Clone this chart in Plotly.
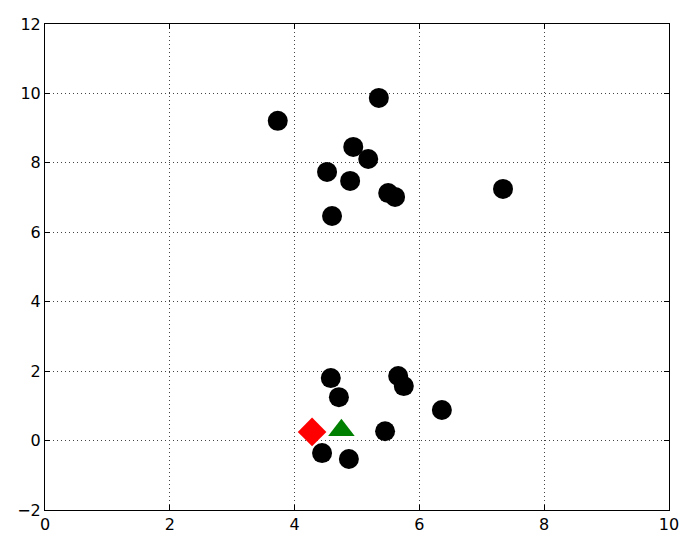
import plotly.graph_objects as go

# black points
pts_x = [3.73, 5.35, 4.94, 5.18, 4.52, 4.89, 5.50, 5.61, 7.34, 4.60,
         4.58, 5.66, 5.75, 4.71, 6.36, 5.45, 4.44, 4.87]
pts_y = [9.21, 9.87, 8.46, 8.11, 7.74, 7.48, 7.13, 7.02, 7.25, 6.47,
         1.80, 1.86, 1.57, 1.25, 0.88, 0.27, -0.36, -0.53]

# special markers
diamond_x = [4.28]
diamond_y = [0.25]
triangle_x = [4.75]
triangle_y = [0.30]

fig = go.Figure()

fig.add_trace(go.Scatter(x=pts_x, y=pts_y, mode='markers',
                         marker=dict(symbol='circle', size=20, color='black', line=dict(width=0))))
fig.add_trace(go.Scatter(x=diamond_x, y=diamond_y, mode='markers',
                         marker=dict(symbol='diamond', size=22, color='red', line=dict(width=0))))
fig.add_trace(go.Scatter(x=triangle_x, y=triangle_y, mode='markers',
                         marker=dict(symbol='triangle-up', size=23, color='green', line=dict(width=0))))

axis_style = dict(
    showline=True, linecolor='black', linewidth=1, mirror='ticks',
    ticks='inside', ticklen=5, tickcolor='black',
    showgrid=True, gridcolor='#444444', griddash='1px,3px', gridwidth=1,
    zeroline=False, automargin=False,
    tickfont=dict(family='DejaVu Sans', size=16, color='black'),
)

fig.update_xaxes(range=[0, 10], dtick=2, **axis_style)
fig.update_yaxes(range=[-2, 12], dtick=2, tickvals=[-2, 0, 2, 4, 6, 8, 10, 12],
                 ticktext=['\u22122', '0', '2', '4', '6', '8', '10', '12'], **axis_style)

# page body adds ~8px margin, so size and margins are trimmed to match
fig.update_layout(
    width=692, height=542,
    margin=dict(l=37, r=31, t=16, b=40),
    plot_bgcolor='white', paper_bgcolor='white',
    showlegend=False,
)

fig.write_html("out.html")
